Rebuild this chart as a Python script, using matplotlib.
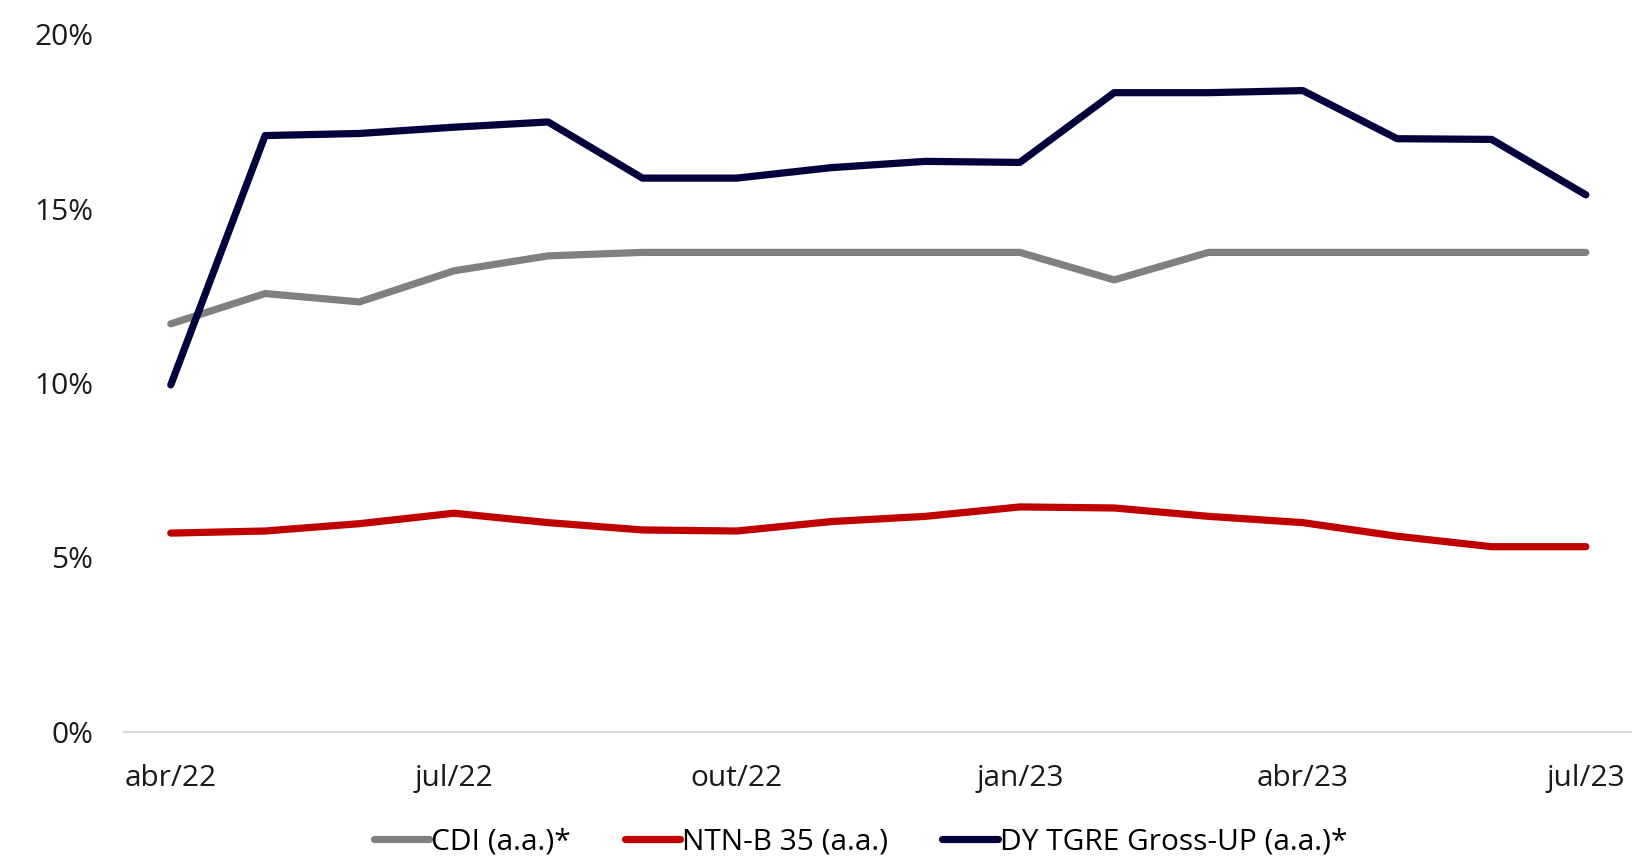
import matplotlib
matplotlib.use("Agg")
import matplotlib.pyplot as plt
from matplotlib.ticker import FuncFormatter

# monthly data, abr/22 .. jul/23
months = ["abr/22", "mai/22", "jun/22", "jul/22", "ago/22", "set/22", "out/22", "nov/22",
          "dez/22", "jan/23", "fev/23", "mar/23", "abr/23", "mai/23", "jun/23", "jul/23"]
cdi = [11.70, 12.57, 12.33, 13.22, 13.65, 13.75, 13.75, 13.75,
       13.75, 13.75, 12.96, 13.75, 13.75, 13.75, 13.75, 13.75]
ntnb = [5.70, 5.76, 5.97, 6.27, 6.00, 5.79, 5.76, 6.03,
        6.18, 6.45, 6.42, 6.18, 6.00, 5.61, 5.31, 5.31]
dy = [9.95, 17.10, 17.16, 17.34, 17.49, 15.88, 15.88, 16.18,
      16.36, 16.33, 18.33, 18.33, 18.39, 17.01, 16.99, 15.40]
labels = ["CDI (a.a.)*", "NTN-B 35 (a.a.)", "DY TGRE Gross-UP (a.a.)*"]
colors = ["#808080", "#C00000", "#02013C"]

plt.rcParams["font.family"] = ["Open Sans", "DejaVu Sans"]
plt.rcParams["font.size"] = 21.5

fig = plt.figure(figsize=(16.33, 8.61), dpi=100)
ax = fig.add_axes([0.0757, 0.150, 0.9243, 0.810])

x = list(range(len(months)))
for series, lab, col in zip([cdi, ntnb, dy], labels, colors):
    ax.plot(x, series, color=col, lw=5.2, label=lab, solid_capstyle="round")

ax.set_xlim(-0.5, len(months) - 0.5)
ax.set_ylim(0, 20)
ax.set_yticks([0, 5, 10, 15, 20])
ax.yaxis.set_major_formatter(FuncFormatter(lambda v, p: f"{v:.0f}%"))
ax.set_xticks(x[::3])
ax.set_xticklabels(months[::3])
ax.tick_params(length=0, colors="#1a1a1a")
ax.tick_params(axis="y", pad=22)
ax.tick_params(axis="x", pad=23)

for s in ["top", "right", "left"]:
    ax.spines[s].set_visible(False)
ax.spines["bottom"].set_color("#D9D9D9")
ax.spines["bottom"].set_linewidth(1.5)

fig.legend(loc="center", bbox_to_anchor=(0.527, 0.022), ncol=3, frameon=False,
           handlelength=1.85, handletextpad=0.08, columnspacing=1.8)

fig.savefig("out.png", dpi=100)
